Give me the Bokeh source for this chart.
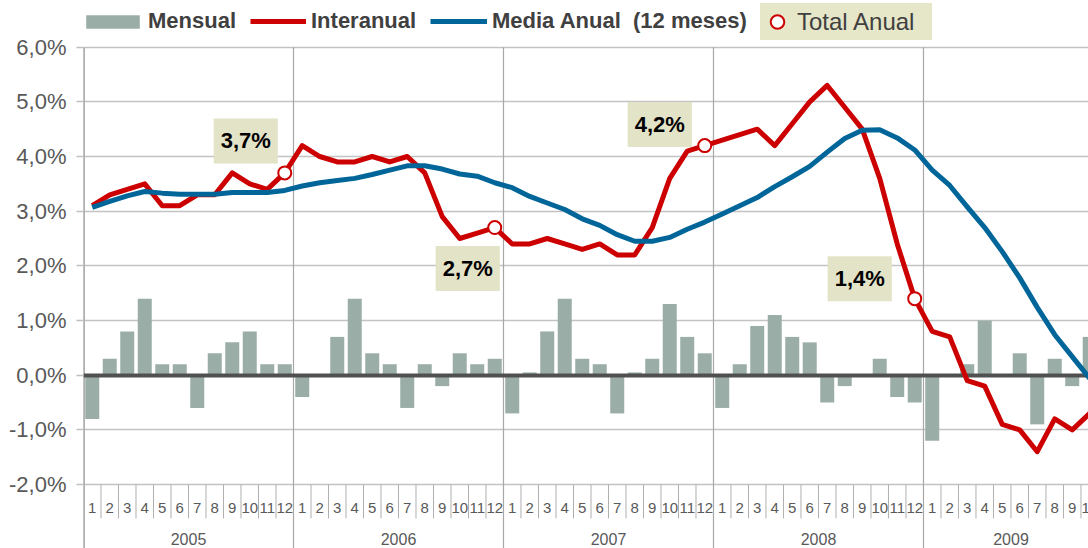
from bokeh.plotting import figure
from bokeh.models import Range1d, FixedTicker, Legend, LegendItem, Label, Span
from bokeh.embed import file_html
from bokeh.resources import INLINE
from bokeh.core.properties import value

# ---------------- data ----------------
years = ["2005", "2006", "2007", "2008", "2009"]
month_labels = ["1", "2", "3", "4", "5", "6", "7", "8", "9", "10", "11", "12"]

mensual = [
    -0.8, 0.3, 0.8, 1.4, 0.2, 0.2, -0.6, 0.4, 0.6, 0.8, 0.2, 0.2,
    -0.4, 0.0, 0.7, 1.4, 0.4, 0.2, -0.6, 0.2, -0.2, 0.4, 0.2, 0.3,
    -0.7, 0.05, 0.8, 1.4, 0.3, 0.2, -0.7, 0.05, 0.3, 1.3, 0.7, 0.4,
    -0.6, 0.2, 0.9, 1.1, 0.7, 0.6, -0.5, -0.2, 0.0, 0.3, -0.4, -0.5,
    -1.2, 0.0, 0.2, 1.0, 0.0, 0.4, -0.9, 0.3, -0.2, 0.7,
]
interanual = [
    3.1, 3.3, 3.4, 3.5, 3.1, 3.1, 3.3, 3.3, 3.7, 3.5, 3.4, 3.7,
    4.2, 4.0, 3.9, 3.9, 4.0, 3.9, 4.0, 3.7, 2.9, 2.5, 2.6, 2.7,
    2.4, 2.4, 2.5, 2.4, 2.3, 2.4, 2.2, 2.2, 2.7, 3.6, 4.1, 4.2,
    4.3, 4.4, 4.5, 4.2, 4.6, 5.0, 5.3, 4.9, 4.5, 3.6, 2.4, 1.4,
    0.8, 0.7, -0.1, -0.2, -0.9, -1.0, -1.4, -0.8, -1.0, -0.7,
]
media_anual = [
    3.07, 3.18, 3.28, 3.36, 3.33, 3.31, 3.31, 3.31, 3.34, 3.34, 3.34, 3.38,
    3.46, 3.52, 3.56, 3.60, 3.67, 3.75, 3.83, 3.83, 3.77, 3.68, 3.64, 3.52,
    3.43, 3.27, 3.15, 3.03, 2.86, 2.74, 2.57, 2.45, 2.45, 2.52, 2.67, 2.80,
    2.95, 3.10, 3.25, 3.45, 3.63, 3.82, 4.08, 4.33, 4.48, 4.49, 4.34, 4.12,
    3.75, 3.47, 3.08, 2.70, 2.26, 1.78, 1.24, 0.74, 0.34, -0.06,
]
y_ticks = [-2, -1, 0, 1, 2, 3, 4, 5, 6]

# ---------------- derived ----------------
n = len(interanual)
xs = [i + 0.5 for i in range(n)]
month_text = [month_labels[i % 12] for i in range(n)]
dec_idx = [i for i in range(n) if i % 12 == 11]
tot_x = [xs[i] for i in dec_idx]
tot_y = [interanual[i] for i in dec_idx]

Y_TOP, Y_BOT = 6.854, -3.171
X_END = 57.43

FONT = "Liberation Sans"
GFONT = value(FONT)
GREY_TXT = "#595959"

p = figure(width=1088, height=548, x_range=Range1d(0, X_END), y_range=Range1d(Y_BOT, Y_TOP),
           output_backend="svg", toolbar_location=None, x_axis_location=None,
           min_border_left=83, min_border_right=0, min_border_top=0, min_border_bottom=0)
p.outline_line_color = None
p.background_fill_color = "white"
for g in p.grid:
    if g.dimension == 0:
        g.visible = False

yax = p.yaxis[0]
yax.ticker = FixedTicker(ticks=y_ticks)
yax.major_label_overrides = {t: f"{t:.1f}%".replace(".", ",") for t in y_ticks}
yax.axis_line_color = None
yax.major_tick_in = 0
yax.major_tick_out = 7
yax.minor_tick_line_color = None
yax.major_tick_line_color = "#c0c0c0"
yax.major_tick_line_width = 1.5
yax.major_label_text_font = FONT
yax.major_label_text_font_size = "22px"
yax.major_label_text_color = GREY_TXT
yax.major_label_standoff = 10
p.ygrid.grid_line_color = "#c3c3c3"
p.ygrid.grid_line_width = 1.5

# faint chart-area border on the far left
p.add_layout(Span(location=-80, location_units="screen", dimension="height",
                  line_color="#c8c8c8", line_width=1.5))

# year separators (full height below 6%) and month separators (axis area)
year_starts = list(range(0, n, 12))
p.segment(x0=year_starts, x1=year_starts, y0=[Y_BOT] * len(year_starts), y1=[y_ticks[-1]] * len(year_starts),
          line_color="#a8a8a8", line_width=1.2)
p.segment(x0=year_starts[:1], x1=year_starts[:1], y0=[Y_BOT], y1=[y_ticks[-1]],
          line_color="#b0b0b0", line_width=3)
month_seps = [k for k in range(1, n + 1) if k % 12 != 0]
p.segment(x0=month_seps, x1=month_seps, y0=[y_ticks[0]] * len(month_seps), y1=[-2.62] * len(month_seps),
          line_color="#b0b0b0", line_width=1)

# month and year labels
p.text(x=xs, y=[-2.43] * n, text=month_text, text_font=GFONT, text_font_size="15px",
       text_color=GREY_TXT, text_align="center", text_baseline="middle")
yr_x = [12 * k + min(12, n - 12 * k) / 2 for k in range(len(years))]
p.text(x=yr_x, y=[-2.99] * len(years), text=years, text_font=GFONT, text_font_size="16px",
       text_color=GREY_TXT, text_align="center", text_baseline="middle")

# bars
bars = p.vbar(x=xs, top=mensual, bottom=0, width=0.8, fill_color="#9aaea7", line_color=None)
p.hspan(y=[0], line_color="#505050", line_width=4)

# lines
red = p.line(xs, interanual, line_color="#cc0000", line_width=5, line_join="round")
blue = p.line(xs, media_anual, line_color="#006699", line_width=5, line_join="round")
marks = p.scatter(tot_x, tot_y, marker="circle", size=13, fill_color="white",
                  line_color="#cc0000", line_width=2)

# annotation boxes for yearly totals
offsets = [(-39, 32), (-27, -41), (-45, 21), (-55, 20)]
for (xv, yv), (dx, dy) in zip(zip(tot_x, tot_y), offsets):
    p.add_layout(Label(x=xv, y=yv, x_offset=dx, y_offset=dy, text=f"{yv:.1f}%".replace(".", ","),
                       text_font=FONT, text_font_style="bold", text_font_size="22px",
                       text_color="black", text_align="center", text_baseline="middle",
                       background_fill_color="#e3e3c8",
                       padding=dict(left=7, right=7, top=10, bottom=10)))

# legends
def add_legend(label, rend, loc, gw, gh, bold=True, size="22px", standoff=5, **kw):
    lg = Legend(items=[LegendItem(label=label, renderers=[rend])], location=loc,
                orientation="horizontal", border_line_color=None, margin=0,
                glyph_width=gw, glyph_height=gh, label_standoff=standoff,
                label_text_font=FONT, label_text_font_style="bold" if bold else "normal",
                label_text_font_size=size, label_text_color="#404040",
                label_height=gh, **kw)
    p.add_layout(lg)
    return lg

add_legend("Mensual", bars, (-4, 514), 67, 17, padding=0, background_fill_alpha=0, standoff=2)
add_legend("Interanual", red, (167, 514), 56, 18, padding=0, background_fill_alpha=0)
add_legend("Media Anual  (12 meses)", blue, (347, 514), 57, 18, padding=0, background_fill_alpha=0)
add_legend("Total Anual", marks, (677, 508), 34, 37, bold=False, size="24px", padding=0,
           background_fill_color="#e6e6c8", background_fill_alpha=1, standoff=3, label_width=135)

open("out.html", "w").write(file_html(p, INLINE))
